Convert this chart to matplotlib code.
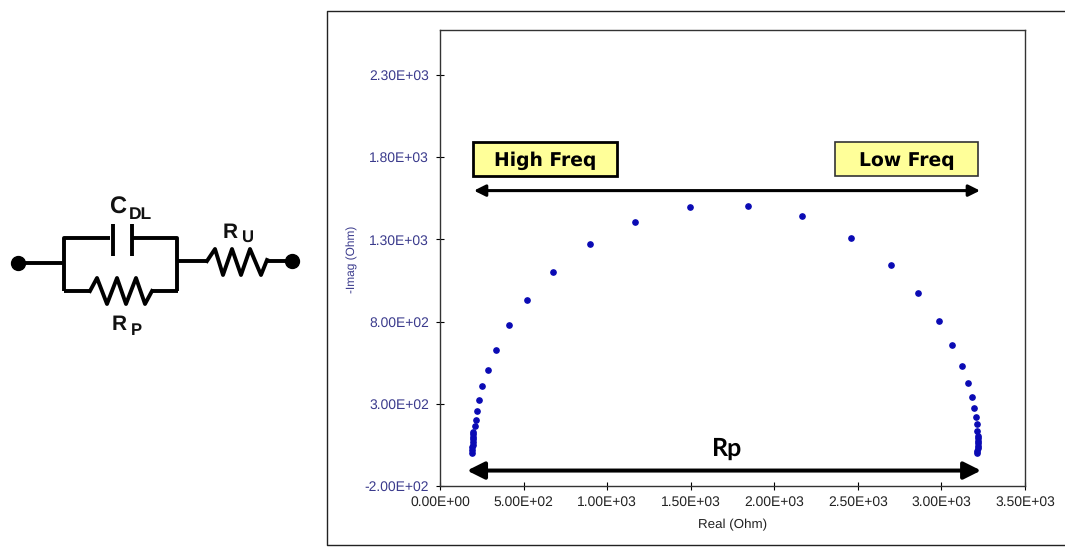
#!/usr/bin/python
"""Nyquist plot of a simplified Randles cell, with its equivalent circuit."""
from matplotlib import pyplot as plt
from matplotlib.patches import Rectangle

FIG_W = 1065
FIG_H = 548

# Real (Ohm), -Imag (Ohm)
real_ohm = [193, 193, 194, 195, 196, 197, 197, 198, 199, 209, 215, 221, 235, 253,
            287, 337, 413, 521, 676, 897, 1167, 1496, 1843, 2166, 2459, 2698,
            2860, 2984, 3063, 3123, 3161, 3181, 3197, 3205, 3211, 3211, 3217,
            3217, 3217, 3217, 3216, 3216, 3215, 3215]
imag_ohm = [3, 19, 35, 51, 68, 84, 100, 116, 130, 165, 201, 256, 321, 408,
            506, 625, 779, 931, 1102, 1272, 1406, 1497, 1503, 1442, 1308, 1144,
            974, 804, 658, 532, 425, 341, 273, 220, 177, 136, 106,
            90, 75, 60, 45, 30, 15, 0]

x_ticks = [0, 500, 1000, 1500, 2000, 2500, 3000, 3500]
y_ticks = [-200, 300, 800, 1300, 1800, 2300]
x_tick_labels = ['0.00E+00', '5.00E+02', '1.00E+03', '1.50E+03',
                 '2.00E+03', '2.50E+03', '3.00E+03', '3.50E+03']
y_tick_labels = ['-2.00E+02', '3.00E+02', '8.00E+02', '1.30E+03',
                 '1.80E+03', '2.30E+03']

# Extents of the arrows in the chart
freq_arrow = [203, 3231]
freq_arrow_y = 1597
rp_arrow = [162, 3237]
rp_arrow_y = -106

NAVY = '#3a3a8c'
POINT_BLUE = '#0a0ab4'
YELLOW = '#ffff99'


def apply_axes_formatting(axes):
    """ Excel style axes with ticks crossing the spines. """
    axes.set_xlim(0, 3500)
    axes.set_ylim(-200, 2574)
    axes.set_xticks(x_ticks)
    axes.set_xticklabels(x_tick_labels, fontsize=10, color='#222222')
    axes.set_yticks(y_ticks)
    axes.set_yticklabels(y_tick_labels, fontsize=10, color=NAVY)
    axes.tick_params(axis='x', direction='inout', length=5.5, width=0.8, pad=4)
    axes.tick_params(axis='y', direction='inout', length=5.5, width=0.8, pad=5)
    axes.set_xlabel('Real (Ohm)', fontsize=9.6, color='#222222')
    axes.set_ylabel('-Imag (Ohm)', fontsize=8.6, color=NAVY)
    axes.xaxis.set_label_coords(0.5, -39 / 456, transform=axes.transAxes)
    axes.yaxis.set_label_coords(-88 / 585, 0.496, transform=axes.transAxes)
    axes.xaxis.label.set_verticalalignment('center')
    axes.yaxis.label.set_verticalalignment('center')
    for spine in axes.spines.values():
        spine.set_linewidth(1.0)
        spine.set_color('#333333')


def draw_arrow(axes, x_start, x_end, y, lw, head):
    """ Thick black double headed arrow in data coordinates. """
    axes.annotate('', xy=(x_start, y), xytext=(x_end, y),
                  arrowprops=dict(arrowstyle='<|-|>', color='black', lw=lw,
                                  mutation_scale=head, shrinkA=0, shrinkB=0))


def draw_freq_box(overlay, left, top, width, height, text, edge, edge_lw):
    """ Yellow label box, given in figure pixels. """
    overlay.add_patch(Rectangle((left, top), width, height, facecolor=YELLOW,
                                edgecolor=edge, lw=edge_lw))
    overlay.text(left + width / 2, top + 24, text, ha='center', va='baseline',
                 fontsize=13.5, fontweight='bold', family='DejaVu Sans', color='black')


def draw_circuit(overlay):
    """ Equivalent circuit at the left, in figure pixels. """
    lw = 2.8
    wires = [
        ([18, 64], [263, 263]),
        ([64, 64, 110], [291, 238, 238]),
        ([133, 177, 177], [238, 238, 291]),
        ([64, 91], [291, 291]),
        ([151, 178], [291, 291]),
        ([178, 207], [261, 261]),
        ([266, 292], [261, 261]),
    ]
    for xs, ys in wires:
        overlay.plot(xs, ys, color='black', lw=lw, solid_capstyle='butt')
    # Capacitor plates
    overlay.plot([113, 113], [224, 256], color='black', lw=lw, solid_capstyle='butt')
    overlay.plot([132, 132], [224, 256], color='black', lw=lw, solid_capstyle='butt')
    # Resistors
    overlay.plot([90, 97, 107, 117, 126, 136, 145, 152],
                 [291, 278, 304, 278, 304, 278, 304, 291],
                 color='black', lw=lw, solid_joinstyle='round')
    overlay.plot([207, 215, 223, 232, 241, 250, 261, 267],
                 [261, 249, 275, 249, 275, 249, 275, 260],
                 color='black', lw=lw, solid_joinstyle='round')
    # Terminals
    overlay.plot([18, 292], [263, 261], linestyle='none', marker='o',
                 markersize=10, color='black')
    # Labels
    label = dict(family='Liberation Sans', fontweight='bold', color='#111111')
    overlay.text(109, 214, 'C', fontsize=17, ha='left', va='baseline', **label)
    overlay.text(129, 219, 'DL', fontsize=12.5, ha='left', va='baseline', **label)
    overlay.text(223, 238, 'R', fontsize=15, ha='left', va='baseline', **label)
    overlay.text(242, 242, 'U', fontsize=12, ha='left', va='baseline', **label)
    overlay.text(112, 330, 'R', fontsize=15, ha='left', va='baseline', **label)
    overlay.text(131, 335, 'P', fontsize=12, ha='left', va='baseline', **label)


def main():
    plt.rcParams['font.family'] = ['Liberation Sans', 'DejaVu Sans']
    plt.rcParams['text.hinting'] = 'no_hinting'
    fig = plt.figure(figsize=(FIG_W / 100, FIG_H / 100), dpi=100)

    # Overlay in pixel coordinates, y pointing down like the picture
    overlay = fig.add_axes([0, 0, 1, 1], zorder=3)
    overlay.set_xlim(0, FIG_W)
    overlay.set_ylim(FIG_H, 0)
    overlay.axis('off')
    overlay.patch.set_alpha(0)

    # Outer chart frame runs off the right side of the picture
    overlay.plot([FIG_W + 5, 327, 327, FIG_W + 5], [11, 11, 545, 545],
                 color='#222222', lw=1.0)

    axes = fig.add_axes([440 / FIG_W, 1 - 486 / FIG_H, 585 / FIG_W, 456 / FIG_H])
    axes.plot(real_ohm, imag_ohm, linestyle='none', marker='o', markersize=3.8,
              color=POINT_BLUE, clip_on=False)
    apply_axes_formatting(axes)

    draw_arrow(axes, freq_arrow[0], freq_arrow[1], freq_arrow_y, lw=2.2, head=17)
    draw_arrow(axes, rp_arrow[0], rp_arrow[1], rp_arrow_y, lw=2.9, head=26)
    axes.text(1717, -17, 'Rp', fontsize=18, fontweight='bold', family='Lato',
              ha='center', va='baseline', color='black')

    draw_freq_box(overlay, 473, 142, 144, 34, 'High Freq', 'black', 2.0)
    draw_freq_box(overlay, 835, 142, 143, 34, 'Low Freq', '#333333', 1.2)
    draw_circuit(overlay)

    fig.savefig('out.png', dpi=100)


if __name__ == '__main__':
    main()
